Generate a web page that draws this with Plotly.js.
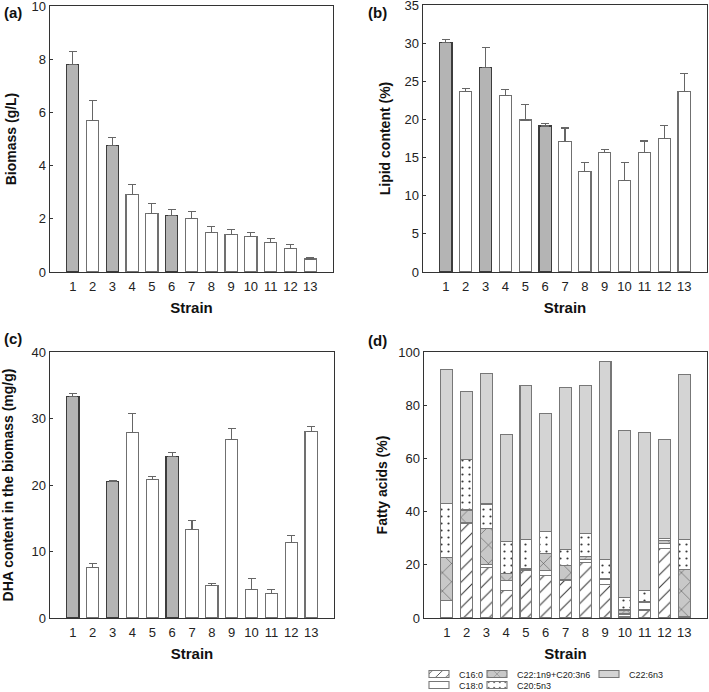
<!DOCTYPE html>
<html>
<head>
<meta charset="utf-8">
<script src="https://cdn.plot.ly/plotly-3.0.1.min.js"></script>
<style>html,body{margin:0;padding:0;background:#fff;}#chart{width:709px;height:692px;background:#fff;}</style>
</head>
<body>
<div id="chart"></div>
<script>
// ---------- data ----------
var strains = [1,2,3,4,5,6,7,8,9,10,11,12,13];
var strainLabels = ['1','2','3','4','5','6','7','8','9','10','11','12','13'];
var highlighted = [1,3,6];

var biomass    = [7.8, 5.71, 4.76, 2.92, 2.21, 2.11, 2.02, 1.5, 1.42, 1.32, 1.12, 0.89, 0.49];
var biomassErr = [0.5, 0.75, 0.28, 0.38, 0.37, 0.23, 0.26, 0.22, 0.19, 0.18, 0.15, 0.16, 0.07];

var lipid    = [30.1, 23.65, 26.76, 23.17, 19.93, 19.14, 17.08, 13.14, 15.68, 12.0, 15.68, 17.48, 23.65];
var lipidErr = [0.35, 0.4, 2.67, 0.75, 1.97, 0.3, 1.8, 1.23, 0.35, 2.37, 1.49, 1.71, 2.41];

var dha    = [33.3, 7.6, 20.55, 27.95, 20.85, 24.25, 13.35, 4.85, 26.9, 4.25, 3.65, 11.35, 28.0];
var dhaErr = [0.5, 0.6, 0.15, 2.75, 0.45, 0.6, 1.35, 0.3, 1.55, 1.65, 0.7, 1.1, 0.75];

var c16_0  = [0, 35.5, 19, 10.2, 18, 16, 14, 21, 12.5, 0.5, 3, 26, 0.5];
var c18_0  = [6.6, 0.5, 1, 3.9, 0.3, 1.9, 0.5, 1.1, 2.1, 1.0, 2.9, 2.1, 0];
var c22_1  = [16, 4.6, 13.75, 2.8, 0.3, 6.2, 5.1, 1, 0.4, 1.5, 0.4, 0.9, 17.9];
var c20_5  = [20.4, 19, 9.1, 12, 10.8, 8.3, 6, 8.8, 7.1, 4.6, 4, 0.8, 11.2];
var c22_6  = [50.3, 25.4, 49, 40.1, 57.9, 44.5, 61, 55.5, 74.4, 63, 59.4, 37.3, 62];

var faNames = ['C16:0','C18:0','C22:1n9+C20:3n6','C20:5n3','C22:6n3'];

// ---------- styles ----------
var FONT = 'Liberation Sans, Arial, sans-serif';
var W = 709, H = 692;
function px(x){return x/W;}
function py(y){return 1 - y/H;}

var fillCols = strains.map(function(s){return highlighted.indexOf(s)>=0 ? '#b4b4b4' : '#ffffff';});
var lineCols = strains.map(function(s){return highlighted.indexOf(s)>=0 ? '#3c3c3c' : '#707070';});

function simpleBar(y, err, xa, ya){
  return {
    type:'bar', x: strains, y: y, xaxis: xa, yaxis: ya, width: 0.62,
    marker:{color: fillCols, line:{color: lineCols, width:1.2}},
    error_y:{type:'data', array: err, arrayminus: strains.map(function(){return 0;}), symmetric:false,
             color:'#666666', thickness:1.1, width:4},
    showlegend:false, hoverinfo:'skip'
  };
}

var traces = [
  simpleBar(biomass, biomassErr, 'x', 'y'),
  simpleBar(lipid, lipidErr, 'x2', 'y2'),
  simpleBar(dha, dhaErr, 'x3', 'y3')
];

var faData = [c16_0, c18_0, c22_1, c20_5, c22_6];
var faStyle = [
  {color:'#ffffff', pattern:{shape:'/', fgcolor:'#3a3a3a', bgcolor:'#ffffff', size:9, solidity:0.12}, legend:'legend'},
  {color:'#ffffff', legend:'legend4'},
  {color:'#c8c8c8', pattern:{shape:'x', fgcolor:'#4a4a4a', bgcolor:'#c8c8c8', size:13, solidity:0.08}, legend:'legend2'},
  {color:'#ffffff', pattern:{shape:'.', fgcolor:'#3a3a3a', bgcolor:'#ffffff', size:7, solidity:0.08}, legend:'legend5'},
  {color:'#d4d4d4', legend:'legend3'}
];
faData.forEach(function(vals, i){
  var st = faStyle[i];
  var m = {color: st.color, line:{color:'#777777', width:1.1}};
  if (st.pattern) m.pattern = st.pattern;
  traces.push({
    type:'bar', x: strains, y: vals, xaxis:'x4', yaxis:'y4', width:0.6,
    name: faNames[i], marker: m, legend: st.legend, showlegend:true, hoverinfo:'skip'
  });
});

function xAxis(d0, d1, anchor){
  return {
    domain:[px(d0), px(d1)], range:[-0.15, 14.15], anchor: anchor,
    tickvals: strains, ticktext: strainLabels, ticks:'', showgrid:false, zeroline:false,
    showline:true, mirror:true, linecolor:'#333333', linewidth:1.4,
    ticklabelstandoff: 2,
    tickfont:{family:FONT, size:13, color:'#222'},
    title:{text:'<b>Strain</b>', font:{family:FONT, size:15, color:'#111'}, standoff:9},
    fixedrange:true
  };
}
function yAxis(d0, d1, range, dtick, title, anchor, standoff){
  return {
    domain:[py(d1), py(d0)], range: range, dtick: dtick, tick0:0, anchor: anchor,
    ticks:'inside', ticklen:3, tickcolor:'#333', showgrid:false, zeroline:false,
    showline:true, mirror:true, linecolor:'#333333', linewidth:1.4,
    ticklabeloverflow:'allow',
    tickfont:{family:FONT, size:13, color:'#222'},
    title:{text:'<b>'+title+'</b>', font:{family:FONT, size:14, color:'#111'}, standoff:standoff},
    fixedrange:true
  };
}

function legendAt(x, y){
  return {x: px(x), y: py(y), xref:'paper', yref:'paper', xanchor:'left', yanchor:'middle',
          orientation:'v', font:{family:FONT, size:9, color:'#222'},
          borderwidth:0, itemwidth:30, tracegroupgap:0};
}

var layout = {
  width: W, height: H, margin:{l:0, r:0, t:0, b:0, autoexpand:false},
  paper_bgcolor:'rgba(255,255,255,0)', plot_bgcolor:'#ffffff',
  barmode:'stack', bargap:0.38,
  font:{family:FONT, color:'#222'},
  xaxis: xAxis(50, 333, 'y'),    yaxis: yAxis(6, 272, [0,10], 2, 'Biomass (g/L)', 'x', 11),
  xaxis2: xAxis(423, 707, 'y2'), yaxis2: yAxis(5, 272, [0,35], 5, 'Lipid content (%)', 'x2', 10),
  xaxis3: xAxis(50, 334, 'y3'),  yaxis3: yAxis(352, 618, [0,40], 10, 'DHA content in the biomass (mg/g)', 'x3', 14),
  xaxis4: xAxis(424, 707, 'y4'), yaxis4: yAxis(352, 618, [0,100], 20, 'Fatty acids (%)', 'x4', 7),
  legend: legendAt(419, 674),
  legend2: legendAt(477, 674),
  legend3: legendAt(589, 674),
  legend4: legendAt(419, 685),
  legend5: legendAt(477, 685),
  annotations: [
    {text:'<b>(a)</b>', x:px(2), y:py(12), xref:'paper', yref:'paper', xanchor:'left', yanchor:'middle', showarrow:false, font:{family:FONT, size:15, color:'#111'}},
    {text:'<b>(b)</b>', x:px(366), y:py(12), xref:'paper', yref:'paper', xanchor:'left', yanchor:'middle', showarrow:false, font:{family:FONT, size:15, color:'#111'}},
    {text:'<b>(c)</b>', x:px(2), y:py(338), xref:'paper', yref:'paper', xanchor:'left', yanchor:'middle', showarrow:false, font:{family:FONT, size:15, color:'#111'}},
    {text:'<b>(d)</b>', x:px(366), y:py(340), xref:'paper', yref:'paper', xanchor:'left', yanchor:'middle', showarrow:false, font:{family:FONT, size:15, color:'#111'}}
  ]
};

Plotly.newPlot('chart', traces, layout, {displayModeBar:false, staticPlot:true}).then(function(gd){
  // flatten the legend swatches into wide, short keys as in the reference
  var sw = gd.querySelectorAll('.legendpoints path.legendbar, .legendpoints path.legendundefined');
  sw.forEach(function(p){ p.setAttribute('d', 'M10,3.5H-10V-3.5H10Z'); });
});
</script>
</body>
</html>
